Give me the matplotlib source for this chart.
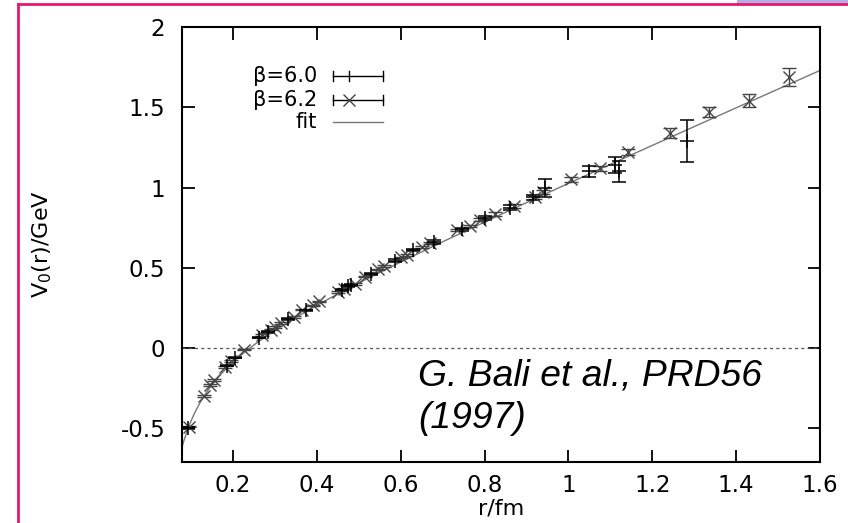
import numpy as np
import matplotlib.pyplot as plt
from matplotlib.lines import Line2D
from matplotlib.patches import Rectangle

# beta=6.0 lattice points (r/fm, V/GeV, error)
r60 = [0.093, 0.185, 0.205, 0.262, 0.283, 0.33, 0.375, 0.46, 0.475, 0.48,
       0.53, 0.585, 0.63, 0.68, 0.745, 0.80, 0.86, 0.915, 0.945, 1.05,
       1.11, 1.12, 1.283]
v60 = [-0.50, -0.11, -0.06, 0.065, 0.10, 0.18, 0.235, 0.36, 0.385, 0.39,
       0.46, 0.545, 0.61, 0.66, 0.74, 0.81, 0.875, 0.94, 1.00, 1.10,
       1.14, 1.10, 1.29]
e60 = [0.005, 0.005, 0.005, 0.005, 0.005, 0.005, 0.005, 0.006, 0.006, 0.006,
       0.006, 0.008, 0.008, 0.01, 0.01, 0.012, 0.015, 0.015, 0.056, 0.035,
       0.05, 0.065, 0.13]

# beta=6.2 lattice points
r62 = [0.095, 0.13, 0.145, 0.155, 0.18, 0.195, 0.225, 0.27, 0.29, 0.30,
       0.315, 0.345, 0.365, 0.39, 0.405, 0.45, 0.465, 0.49, 0.515, 0.545,
       0.56, 0.60, 0.615, 0.65, 0.67, 0.735, 0.765, 0.79, 0.825, 0.87,
       0.92, 0.94, 1.005, 1.075, 1.143, 1.243, 1.336, 1.43, 1.526]
v62 = [-0.49, -0.30, -0.23, -0.20, -0.12, -0.08, -0.01, 0.08, 0.115, 0.13,
       0.155, 0.195, 0.24, 0.265, 0.29, 0.35, 0.37, 0.40, 0.445, 0.49,
       0.51, 0.565, 0.58, 0.63, 0.655, 0.735, 0.76, 0.80, 0.835, 0.885,
       0.94, 0.97, 1.05, 1.12, 1.22, 1.34, 1.47, 1.54, 1.69]
e62 = [0.005]*23 + [0.006, 0.006, 0.007, 0.008, 0.008, 0.01, 0.01,
       0.012, 0.012, 0.015, 0.015, 0.02, 0.03, 0.03, 0.04, 0.055]

# Cornell fit V(r) = V0 - e/r + sigma*r
V0_fit = -0.065
e_fit = 0.0501
sigma_fit = 1.141

xticks = [0.2, 0.4, 0.6, 0.8, 1.0, 1.2, 1.4, 1.6]
xticklabels = ['0.2', '0.4', '0.6', '0.8', '1', '1.2', '1.4', '1.6']
yticks = [-0.5, 0, 0.5, 1, 1.5, 2]
yticklabels = ['-0.5', '0', '0.5', '1', '1.5', '2']

fig = plt.figure(figsize=(8.48, 5.23), dpi=100)
ax = fig.add_axes([182/848, 1-462/523, 638/848, 435/523])

# slide decoration
pink = '#e6186e'
fig.add_artist(Line2D([18/848, 18/848], [0, 1-4/523], color=pink, lw=2))
fig.add_artist(Line2D([18/848, 1], [1-4/523, 1-4/523], color=pink, lw=2))
fig.add_artist(Rectangle((737/848, 1-4/523), 111/848, 4/523, color='#b4aee6', lw=0))

ax.axhline(0, color='#555555', lw=0.9, ls=(0, (2.5, 2.5)))

rr = np.linspace(0.075, 1.6, 400)
ax.plot(rr, V0_fit - e_fit/rr + sigma_fit*rr, color='#777777', lw=1)

ax.errorbar(r62, v62, yerr=e62, fmt='x', color='#444444', ms=9, mew=1,
            elinewidth=1, capsize=5, capthick=1)
ax.errorbar(r60, v60, yerr=e60, fmt='+', color='black', ms=10, mew=1.1,
            elinewidth=1.1, capsize=5, capthick=1.1)

ax.set_xlim(0.078, 1.6)
ax.set_ylim(-0.71, 2)
ax.set_xticks(xticks)
ax.set_xticklabels(xticklabels)
ax.set_yticks(yticks)
ax.set_yticklabels(yticklabels)
ax.tick_params(direction='in', length=9, width=1.3, labelsize=16.5,
               top=True, right=True)
ax.tick_params(axis='y', pad=12)
ax.tick_params(axis='x', pad=9)
for sp in ax.spines.values():
    sp.set_linewidth(1.5)

ax.set_xlabel('r/fm', fontsize=16, labelpad=1)
ax.set_ylabel(r'V$_0$(r)/GeV', fontsize=16, labelpad=48)

# gnuplot style key
tr = ax.transAxes
ky = [0.887, 0.832, 0.782]
kx0, kx1 = 0.2367, 0.315
ax.text(0.2116, ky[0], '\u03b2=6.0', transform=tr, ha='right', va='center', fontsize=15)
ax.text(0.2116, ky[1], '\u03b2=6.2', transform=tr, ha='right', va='center', fontsize=15)
ax.text(0.2116, ky[2], 'fit', transform=tr, ha='right', va='center', fontsize=15)
ax.plot([kx0, kx1], [ky[0], ky[0]], color='black', lw=1, transform=tr)
ax.plot([kx0, kx0, np.nan, kx1, kx1, np.nan, 0.262, 0.262],
        [ky[0]-0.012, ky[0]+0.012, np.nan, ky[0]-0.012, ky[0]+0.012, np.nan,
         ky[0]-0.012, ky[0]+0.012], color='black', lw=1, transform=tr)
ax.plot([kx0, kx1], [ky[1], ky[1]], color='black', lw=1, transform=tr)
ax.plot([kx0, kx0, np.nan, kx1, kx1], [ky[1]-0.012, ky[1]+0.012, np.nan,
        ky[1]-0.012, ky[1]+0.012], color='black', lw=1, transform=tr)
ax.plot([0.262], [ky[1]], 'x', color='#444444', ms=9, mew=1, transform=tr)
ax.plot([kx0, kx1], [ky[2], ky[2]], color='#777777', lw=1, transform=tr)

ax.text(418/848, 1-385/523, 'G. Bali et al., PRD56',
        transform=fig.transFigure, fontsize=26.8, style='italic',
        family='Liberation Sans', va='baseline', ha='left')
ax.text(418/848, 1-428/523, '(1997)',
        transform=fig.transFigure, fontsize=26.8, style='italic',
        family='Liberation Sans', va='baseline', ha='left')

fig.savefig('out.png', dpi=100)
